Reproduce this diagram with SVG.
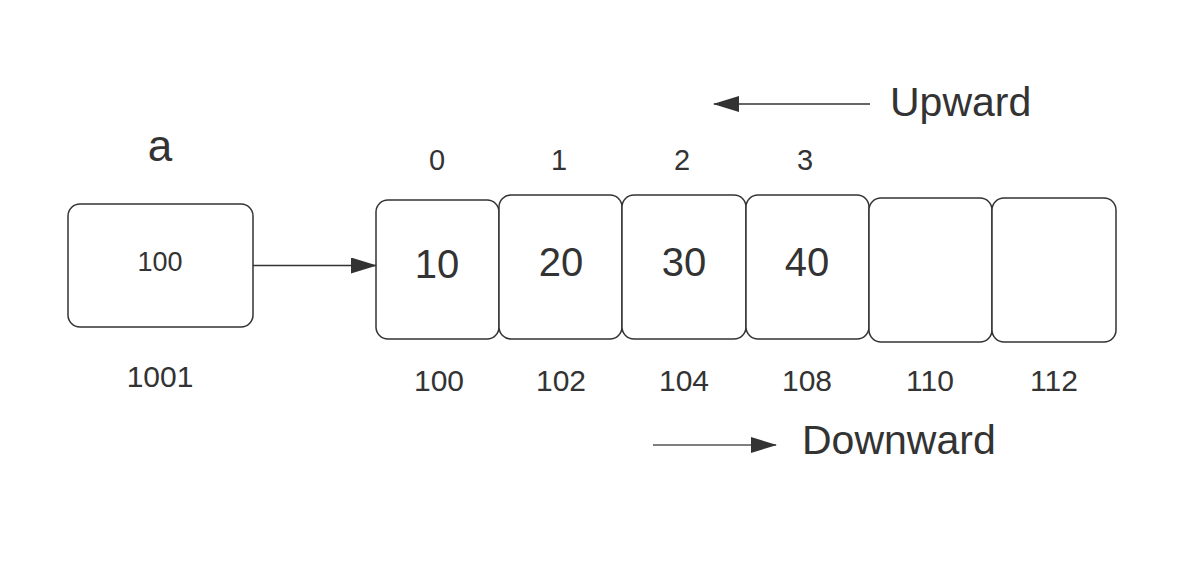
<svg xmlns="http://www.w3.org/2000/svg" width="1200" height="576" viewBox="0 0 1200 576">
<style>
text{font-family:"Liberation Sans",Arial,sans-serif;fill:#333;text-anchor:middle}
.box{fill:#fff;stroke:#333;stroke-width:1.5}
.big{font-size:40px}
.lbl{font-size:30px}
.idx{font-size:29px}
.dir{font-size:41px;text-anchor:start}
.ln{stroke:#333;stroke-width:1.5;fill:none}
</style>
<defs>
<marker id="ah" markerWidth="26" markerHeight="16" refX="25" refY="8" orient="auto" markerUnits="userSpaceOnUse">
<path d="M0,0 L26,8 L0,16 Z" fill="#333"/>
</marker>
</defs>
<rect width="1200" height="576" fill="#fff"/>
<g id="var-a">
<text x="160" y="161" style="font-size:44px">a</text>
<rect class="box" x="68" y="204" width="185" height="123" rx="12"/>
<text x="160" y="271" style="font-size:27px">100</text>
<text x="160" y="387" class="lbl">1001</text>
</g>
<g id="cell0">
<text x="437" y="170" class="idx">0</text>
<rect class="box" x="376" y="200" width="123" height="139" rx="12"/>
<text x="437" y="278" class="big">10</text>
<text x="439" y="391" class="lbl">100</text>
</g>
<g id="cell1">
<text x="559" y="170" class="idx">1</text>
<rect class="box" x="499" y="195" width="123" height="144" rx="12"/>
<text x="561" y="276" class="big">20</text>
<text x="561" y="391" class="lbl">102</text>
</g>
<g id="cell2">
<text x="682" y="170" class="idx">2</text>
<rect class="box" x="622" y="195" width="124" height="144" rx="12"/>
<text x="684" y="276" class="big">30</text>
<text x="684" y="391" class="lbl">104</text>
</g>
<g id="cell3">
<text x="805" y="170" class="idx">3</text>
<rect class="box" x="746" y="195" width="123" height="144" rx="12"/>
<text x="807" y="276" class="big">40</text>
<text x="807" y="391" class="lbl">108</text>
</g>
<g id="cell4">
<rect class="box" x="869" y="198" width="123" height="144" rx="12"/>
<text x="930" y="391" class="lbl">110</text>
</g>
<g id="cell5">
<rect class="box" x="992" y="198" width="124" height="144" rx="12"/>
<text x="1054" y="391" class="lbl">112</text>
</g>
<g id="upward">
<text x="890" y="116" class="dir">Upward</text>
</g>
<g id="downward">
<text x="802" y="454" class="dir">Downward</text>
</g>
<g id="connectors">
<line class="ln" x1="253" y1="265.5" x2="376" y2="265.5" marker-end="url(#ah)"/>
<line class="ln" x1="870" y1="104" x2="714" y2="104" marker-end="url(#ah)"/>
<line class="ln" x1="653" y1="445" x2="776" y2="445" marker-end="url(#ah)" style="stroke:#555"/>
</g>
</svg>
